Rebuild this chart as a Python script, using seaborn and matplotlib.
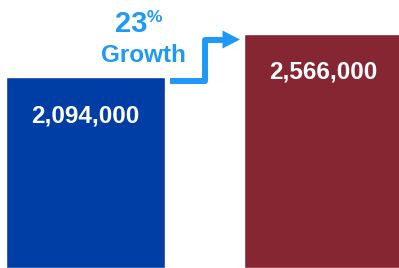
import matplotlib
matplotlib.use("Agg")
import matplotlib.pyplot as plt
import seaborn as sns
import pandas as pd

categories = ["Before", "After"]
values = [2094000, 2566000]
bar_colors = ["#003DA5", "#862633"]
value_labels = ["2,094,000", "2,566,000"]
growth_pct = "23"
growth_word = "Growth"

sns.set_theme(style="white")
plt.rcParams['font.family'] = ['Liberation Sans', 'DejaVu Sans']

W, H = 399, 268
fig = plt.figure(figsize=(W / 100, H / 100), dpi=100)
ax = fig.add_axes([0, 0, 1, 1])

df = pd.DataFrame({"cat": categories, "val": values})
sns.barplot(data=df, x="cat", y="val", hue="cat", palette=bar_colors,
            width=0.668, legend=False, ax=ax, saturation=1)

ax.set_xlim(-0.359, 1.317)
ax.set_ylim(0, values[1] * 268 / 234)
ax.axis("off")

for i, (v, lab) in enumerate(zip(values, value_labels)):
    ax.annotate(lab, xy=(i, v), xytext=(0, -45 * 0.72), textcoords="offset points",
                ha="center", va="baseline", color="white", fontsize=17.5,
                fontweight="bold")

blue = "#1F99F7"

def fx(px):
    return px / W

def fy(py):
    return 1 - py / H

fig.text(fx(131), fy(31.5), growth_pct, ha="center", va="baseline", color=blue,
         fontsize=21, fontweight="bold")
fig.text(fx(146.5), fy(22), "%", ha="left", va="baseline", color=blue,
         fontsize=12.5, fontweight="bold")
fig.text(fx(143.5), fy(62), growth_word, ha="center", va="baseline", color=blue,
         fontsize=17.5, fontweight="bold")

# step arrow
xs = [fx(170), fx(205), fx(205), fx(225)]
ys = [fy(80.5), fy(80.5), fy(40), fy(40)]
fig.add_artist(plt.Line2D(xs, ys, transform=fig.transFigure, color=blue,
                          linewidth=4.3, solid_joinstyle="round",
                          solid_capstyle="butt"))
tri = plt.Polygon([[fx(222.5), fy(30.5)], [fx(240), fy(39.5)], [fx(222.5), fy(48.5)]],
                  closed=True, transform=fig.transFigure, color=blue, linewidth=0)
fig.add_artist(tri)

fig.savefig("out.png", dpi=100)
